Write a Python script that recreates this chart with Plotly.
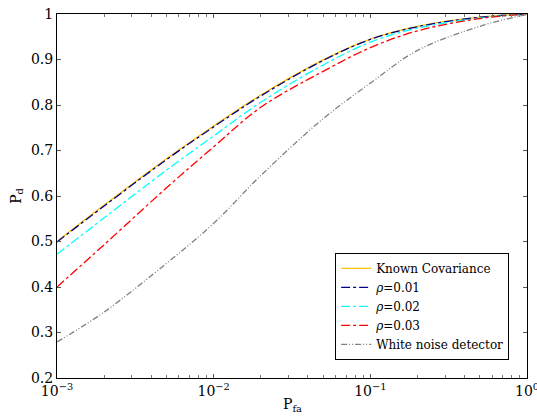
import plotly.graph_objects as go

# P_fa grid and P_d curves
pfa = [1e-3, 2e-3, 5e-3, 1e-2, 2e-2, 5e-2, 1e-1, 2e-1, 5e-1, 1.0]
pd_known = [0.500, 0.580, 0.682, 0.754, 0.822, 0.899, 0.945, 0.973, 0.993, 1.0]
pd_rho1 = [0.499, 0.578, 0.680, 0.752, 0.820, 0.898, 0.944, 0.972, 0.993, 1.0]
pd_rho2 = [0.472, 0.552, 0.657, 0.732, 0.806, 0.888, 0.938, 0.969, 0.991, 1.0]
pd_rho3 = [0.400, 0.493, 0.618, 0.708, 0.795, 0.874, 0.926, 0.963, 0.990, 1.0]
pd_white = [0.279, 0.345, 0.452, 0.540, 0.645, 0.770, 0.848, 0.920, 0.973, 0.999]

xtick_vals = [1e-3, 1e-2, 1e-1, 1.0]
xtick_text = ["10<sup>−3</sup>", "10<sup>−2</sup>", "10<sup>−1</sup>", "10<sup>0</sup>"]
# minor log ticks 2..9 in each decade
xminor = [m * d for d in (1e-3, 1e-2, 1e-1) for m in range(2, 10)]

series = [
    ("Known Covariance", pd_known, "#FFC000", "solid"),
    ("<i>ρ</i>=0.01", pd_rho1, "#00008B", "dashdot"),
    ("<i>ρ</i>=0.02", pd_rho2, "#00FFFF", "dashdot"),
    ("<i>ρ</i>=0.03", pd_rho3, "#FF0000", "dashdot"),
    ("White noise detector", pd_white, "#808080", "6px,2px,1px,2px,1px,2px"),
]

FONT = "DejaVu Serif"

fig = go.Figure()
for name, vals, col, dash in series:
    fig.add_trace(go.Scatter(
        x=pfa, y=vals, mode="lines", name=name,
        line=dict(color=col, width=1.3, dash=dash, shape="spline"),
    ))

axis_common = dict(
    showline=True, linecolor="black", linewidth=1, mirror="ticks",
    ticks="inside", ticklen=4, tickcolor="#555", showgrid=False, zeroline=False,
    tickfont=dict(family=FONT, size=14, color="black"),
    ticklabeloverflow="allow", automargin=False,
)

fig.update_xaxes(
    type="log", range=[-3, 0],
    tickmode="array", tickvals=xtick_vals, ticktext=xtick_text,
    minor=dict(tickmode="array", tickvals=xminor, ticks="inside", ticklen=3,
               tickcolor="#777", showgrid=False),
    **axis_common,
)
fig.update_yaxes(
    range=[0.2, 1], dtick=0.1, tickformat="~g",
    title=dict(text="P<sub>d</sub>", font=dict(family=FONT, size=14, color="black"), standoff=6),
    **axis_common,
)

fig.update_layout(
    width=537, height=418,
    margin=dict(l=57, r=10, t=14, b=40, autoexpand=False),
    paper_bgcolor="white", plot_bgcolor="white",
    font=dict(family=FONT, size=13, color="black"),
    legend=dict(
        x=0.962, y=0.05, xanchor="right", yanchor="bottom",
        bgcolor="white", bordercolor="black", borderwidth=1,
        font=dict(family=FONT, size=12, color="black"),
        tracegroupgap=0, itemwidth=30,
    ),
    annotations=[dict(
        text="P<sub>fa</sub>", x=0.5, y=-0.075, xref="paper", yref="paper",
        xanchor="center", yanchor="middle", showarrow=False,
        font=dict(family=FONT, size=14, color="black"),
    )],
)

# page body margin would push the fixed-size figure out of the window
fig.write_html("out.html", config={"displayModeBar": False},
               post_script="document.body.style.margin='0';")
